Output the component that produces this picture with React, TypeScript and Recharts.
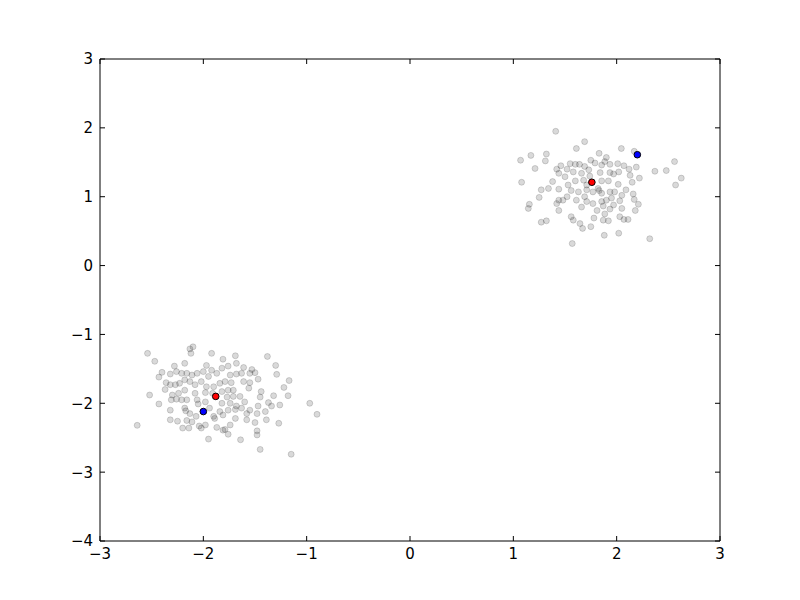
import { Scatter, ScatterChart, XAxis, YAxis } from "recharts"

// samples, [x, y]
const upperCluster: [number, number][] = [
  [1.41, 1.95], [1.69, 1.8], [1.61, 1.7], [1.83, 1.63], [1.07, 1.53], [1.17, 1.6], [1.32, 1.62],
  [1.31, 1.52], [1.21, 1.41], [1.46, 1.45], [1.42, 1.4], [1.44, 1.34], [1.52, 1.4], [1.55, 1.48],
  [1.6, 1.47], [1.64, 1.47], [1.69, 1.44], [1.75, 1.53], [1.79, 1.49], [1.855, 1.46], [1.58, 1.36],
  [1.66, 1.34], [1.73, 1.39], [1.74, 1.3], [1.84, 1.35], [1.5, 1.29], [1.6, 1.23], [1.68, 1.24],
  [1.71, 1.17], [1.855, 1.23], [1.08, 1.21], [1.38, 1.22], [1.53, 1.17], [1.34, 1.12], [1.27, 1.1],
  [1.44, 1.11], [1.56, 1.09], [1.63, 1.07], [1.71, 1.1], [1.77, 1.07], [1.855, 1.05], [1.25, 0.99],
  [1.44, 0.95], [1.48, 0.95], [1.52, 1.0], [1.42, 0.9], [1.155, 0.89], [1.145, 0.83], [1.66, 0.85],
  [1.71, 0.93], [1.77, 0.9], [1.855, 0.93], [1.81, 0.8], [1.44, 0.8], [1.56, 0.71], [1.58, 0.66],
  [1.645, 0.61], [1.67, 0.54], [1.75, 0.565], [1.78, 0.69], [1.27, 0.63], [1.32, 0.65], [1.57, 0.32],
  [1.88, 0.44], [1.87, 0.66], [1.61, 0.95], [1.69, 1.0],
  [2.045, 1.7], [1.9, 1.57], [2.17, 1.66], [2.56, 1.51], [2.48, 1.38], [2.37, 1.37], [2.625, 1.27],
  [2.57, 1.17], [2.22, 1.27], [2.15, 1.21], [2.13, 1.31], [2.12, 1.4], [2.19, 1.43], [2.07, 1.45],
  [2.01, 1.48], [1.935, 1.47], [1.885, 1.51], [1.935, 1.35], [1.97, 1.33], [2.02, 1.36], [1.92, 1.23],
  [2.015, 1.18], [2.09, 1.1], [2.05, 1.02], [1.98, 1.07], [1.82, 1.12], [1.935, 1.07], [1.95, 0.98],
  [1.9, 0.95], [2.03, 0.94], [2.16, 1.04], [2.17, 0.96], [2.21, 0.89], [1.87, 0.865], [1.97, 0.88],
  [2.05, 0.83], [1.935, 0.82], [1.885, 0.75], [2.03, 0.71], [2.07, 0.67], [2.11, 0.67], [2.18, 0.8],
  [1.92, 0.65], [2.02, 0.47], [2.32, 0.39], [1.83, 1.09],
]

const lowerCluster: [number, number][] = [
  [-2.1, -1.18], [-2.13, -1.21], [-2.12, -1.275], [-2.54, -1.275], [-2.47, -1.39], [-1.92, -1.275],
  [-2.18, -1.42], [-2.28, -1.46], [-1.97, -1.45], [-1.92, -1.52], [-2.4, -1.55], [-2.43, -1.62],
  [-2.32, -1.575], [-2.26, -1.54], [-2.21, -1.565], [-2.16, -1.565], [-2.11, -1.59], [-2.06, -1.565],
  [-2.0, -1.54], [-1.95, -1.61], [-1.87, -1.565], [-1.82, -1.49], [-2.36, -1.7], [-2.32, -1.73],
  [-2.37, -1.8], [-2.27, -1.73], [-2.23, -1.71], [-2.18, -1.66], [-2.13, -1.685], [-2.08, -1.73],
  [-2.02, -1.685], [-1.97, -1.76], [-1.9, -1.76], [-1.84, -1.71], [-2.52, -1.88], [-2.3, -1.88],
  [-2.24, -1.855], [-2.18, -1.81], [-2.08, -1.855], [-1.98, -1.845], [-1.91, -1.855], [-2.43, -2.01],
  [-2.31, -1.95], [-2.26, -1.94], [-2.21, -1.95], [-2.16, -1.95], [-2.06, -1.95], [-2.05, -2.01],
  [-1.98, -1.98], [-1.82, -2.0], [-2.32, -2.1], [-2.18, -2.07], [-2.17, -2.11], [-2.13, -2.15],
  [-2.07, -2.19], [-1.94, -2.07], [-1.9, -2.19], [-1.89, -2.22], [-1.84, -2.12], [-2.64, -2.32],
  [-2.32, -2.24], [-2.25, -2.26], [-2.16, -2.25], [-2.2, -2.36], [-2.14, -2.36], [-2.04, -2.33],
  [-2.02, -2.36], [-1.98, -2.315], [-1.87, -2.35], [-1.81, -2.39], [-1.95, -2.52], [-2.11, -2.27],
  [-1.69, -1.31], [-1.81, -1.36], [-1.38, -1.32], [-1.76, -1.46], [-1.68, -1.42], [-1.61, -1.48],
  [-1.53, -1.51], [-1.3, -1.45], [-1.74, -1.59], [-1.68, -1.575], [-1.63, -1.565], [-1.55, -1.565],
  [-1.5, -1.555], [-1.47, -1.65], [-1.29, -1.58], [-1.17, -1.67], [-1.79, -1.685], [-1.73, -1.7],
  [-1.61, -1.685], [-1.55, -1.7], [-1.22, -1.77], [-1.82, -1.83], [-1.76, -1.81], [-1.71, -1.81],
  [-1.56, -1.78], [-1.44, -1.83], [-1.32, -1.89], [-1.18, -1.89], [-1.77, -1.91], [-1.71, -1.9],
  [-1.645, -1.9], [-1.6, -1.98], [-1.45, -1.91], [-1.37, -1.99], [-1.34, -2.04], [-1.26, -2.025],
  [-0.97, -2.0], [-1.74, -2.0], [-1.68, -2.04], [-1.76, -2.1], [-1.69, -2.09], [-1.63, -2.07],
  [-1.55, -2.1], [-1.47, -2.04], [-1.48, -2.15], [-1.58, -2.15], [-1.4, -2.12], [-0.9, -2.16],
  [-1.69, -2.22], [-1.58, -2.24], [-1.5, -2.28], [-1.39, -2.24], [-1.27, -2.29], [-1.74, -2.315],
  [-1.79, -2.38], [-1.76, -2.45], [-1.48, -2.4], [-1.48, -2.46], [-1.64, -2.53], [-1.45, -2.67],
  [-1.15, -2.74], [-1.81, -2.17],
]

const redMarks: [number, number][] = [[1.76, 1.21], [-1.88, -1.9]]
const blueMarks: [number, number][] = [[2.2, 1.61], [-2.0, -2.12]]

const xTicks = [-3, -2, -1, 0, 1, 2, 3]
const yTicks = [-4, -3, -2, -1, 0, 1, 2, 3]

const toRows = (pts: [number, number][]) => pts.map(([x, y]) => ({ x, y }))
const fmt = (v: number) => (v < 0 ? `\u2212${Math.abs(v)}` : `${v}`)

const GAP = 7 // label distance from the frame
const TICK = 5 // inward tick length
const font = { fontFamily: "DejaVu Sans", fontSize: 15, fill: "#000" }
const axisLine = { stroke: "#000", strokeWidth: 1 }

// ticks drawn by hand so they point into the plot, like matplotlib
const BottomTick = (p: any) => (
  <g>
    <line x1={p.x} x2={p.x} y1={p.y - GAP} y2={p.y - GAP - TICK} stroke="#000" />
    <text x={p.x} y={p.y} dy="0.76em" textAnchor="middle" {...font}>{fmt(p.payload.value)}</text>
  </g>
)
const LeftTick = (p: any) => (
  <g>
    <line x1={p.x + GAP} x2={p.x + GAP + TICK} y1={p.y} y2={p.y} stroke="#000" />
    <text x={p.x} y={p.y} dy="0.36em" textAnchor="end" {...font}>{fmt(p.payload.value)}</text>
  </g>
)
const TopTick = (p: any) => <line x1={p.x} x2={p.x} y1={p.y} y2={p.y + TICK} stroke="#000" />
const RightTick = (p: any) => <line x1={p.x - TICK} x2={p.x} y1={p.y} y2={p.y} stroke="#000" />

const grayDot = (props: any) => (
  <circle cx={props.cx} cy={props.cy} r={3} fill="#000" fillOpacity={0.15} stroke="#000" strokeOpacity={0.15} strokeWidth={1} />
)
const colorDot = (color: string) => (props: any) => (
  <circle cx={props.cx} cy={props.cy} r={3.3} fill={color} stroke="#000" strokeWidth={1} />
)

export default function App() {
  return (
    <div style={{ position: "absolute", left: 0, top: 0, width: 800, height: 600, background: "#fff" }}>
      <ScatterChart width={800} height={600} margin={{ top: 58, right: 79, bottom: 0, left: 40 }}>
        <XAxis type="number" dataKey="x" xAxisId="b" domain={[-3, 3]} ticks={xTicks}
          height={59} tick={BottomTick} tickSize={0} tickMargin={GAP} axisLine={axisLine} tickLine={false} allowDataOverflow />
        <XAxis type="number" dataKey="x" xAxisId="t" orientation="top" domain={[-3, 3]} ticks={xTicks}
          height={1} tick={TopTick} tickSize={0} tickMargin={0} axisLine={axisLine} tickLine={false} allowDataOverflow />
        <YAxis type="number" dataKey="y" yAxisId="l" domain={[-4, 3]} ticks={yTicks}
          width={60} tick={LeftTick} tickSize={0} tickMargin={GAP} axisLine={axisLine} tickLine={false} allowDataOverflow />
        <YAxis type="number" dataKey="y" yAxisId="r" orientation="right" domain={[-4, 3]} ticks={yTicks}
          width={1} tick={RightTick} tickSize={0} tickMargin={0} axisLine={axisLine} tickLine={false} allowDataOverflow />
        <Scatter data={toRows(upperCluster)} xAxisId="b" yAxisId="l" shape={grayDot} isAnimationActive={false} />
        <Scatter data={toRows(lowerCluster)} xAxisId="b" yAxisId="l" shape={grayDot} isAnimationActive={false} />
        <Scatter data={toRows(redMarks)} xAxisId="b" yAxisId="l" shape={colorDot("#ff0000")} isAnimationActive={false} />
        <Scatter data={toRows(blueMarks)} xAxisId="b" yAxisId="l" shape={colorDot("#0000ff")} isAnimationActive={false} />
      </ScatterChart>
    </div>
  )
}
